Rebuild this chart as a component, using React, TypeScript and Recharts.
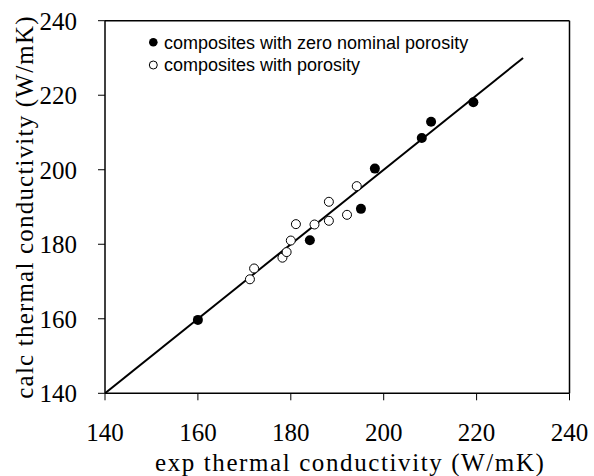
import React from 'react';
import { ScatterChart, Scatter, XAxis, YAxis, ReferenceLine, Legend, Label } from 'recharts';

// composites with zero nominal porosity
const zeroExp = [160, 184.1, 195.1, 198.1, 208.2, 210.2, 219.3];
const zeroCalc = [159.7, 181.1, 189.5, 200.3, 208.5, 212.9, 218.1];
// composites with porosity
const porExp = [171.2, 172.1, 178.2, 179.1, 180.0, 181.1, 185.1, 188.2, 188.2, 192.1, 194.2];
const porCalc = [170.6, 173.5, 176.4, 177.9, 181.0, 185.4, 185.3, 186.3, 191.4, 187.9, 195.6];
// y = x reference line
const lineExp = [140, 230];
const lineCalc = [140, 230];
const axisTicks = [140, 160, 180, 200, 220, 240];
const legendLabels = ['composites with zero nominal porosity', 'composites with porosity'];

const zeroData = zeroExp.map((x, i) => ({ x, y: zeroCalc[i] }));
const porData = porExp.map((x, i) => ({ x, y: porCalc[i] }));
const lineData = lineExp.map((x, i) => ({ x, y: lineCalc[i] }));

const SERIF = '"Liberation Serif", "DejaVu Serif", serif';
const SANS = '"Liberation Sans", Arial, sans-serif';

const FilledDot = (p: any) => <circle cx={p.cx} cy={p.cy} r={5} fill="#000" />;
const OpenDot = (p: any) => <circle cx={p.cx} cy={p.cy} r={4.5} fill="#fff" stroke="#000" strokeWidth={1} />;
const NoDot = () => <g />;

const LegendContent = () => (
  <svg width={360} height={54} style={{ display: 'block' }}>
    <circle cx={8.3} cy={12.3} r={4.3} fill="#000" />
    <text x={19} y={18.6} fontFamily={SANS} fontSize={18} fill="#000">{legendLabels[0]}</text>
    <circle cx={8.3} cy={35} r={4} fill="#fff" stroke="#000" strokeWidth={1} />
    <text x={19} y={41.3} fontFamily={SANS} fontSize={18} fill="#000">{legendLabels[1]}</text>
  </svg>
);

const YTitle = (props: any) => {
  const vb = props.viewBox || { x: 0, y: 20.7, width: 105, height: 372.6 };
  const cx = 33;
  const cy = vb.y + vb.height / 2;
  return (
    <text x={cx} y={cy} transform={`rotate(-90 ${cx} ${cy})`} textAnchor="middle"
      fontFamily={SERIF} fontSize={25} letterSpacing={1.2} fill="#000">
      calc thermal conductivity (W/mK)
    </text>
  );
};

const XTitle = (props: any) => {
  const vb = props.viewBox || { x: 105, y: 393.3, width: 464.5, height: 82.7 };
  return (
    <text x={vb.x + vb.width / 2 + 13} y={471} textAnchor="middle" fontFamily={SERIF} fontSize={25} letterSpacing={1.6} fill="#000">
      exp thermal conductivity (W/mK)
    </text>
  );
};

export default function App() {
  return (
    <div style={{ position: 'absolute', left: 0, top: 0, background: '#fff' }}>
      <ScatterChart width={594} height={476} margin={{ top: 20.7, right: 24.5, bottom: 0, left: 0 }}>
        <XAxis type="number" dataKey="x" domain={[140, 240]} ticks={axisTicks} allowDataOverflow
          height={82.7} tickSize={7} tickMargin={22.7}
          axisLine={{ stroke: '#000', strokeWidth: 1.5 }} tickLine={{ stroke: '#000', strokeWidth: 1 }}
          tick={{ fill: '#000', fontFamily: SERIF, fontSize: 25 }}>
          <Label content={<XTitle />} />
        </XAxis>
        <YAxis type="number" dataKey="y" domain={[140, 240]} ticks={axisTicks} allowDataOverflow
          width={105} tickSize={7} tickMargin={21}
          axisLine={{ stroke: '#000', strokeWidth: 1.5 }} tickLine={{ stroke: '#000', strokeWidth: 1 }}
          tick={{ fill: '#000', fontFamily: SERIF, fontSize: 25 }}>
          <Label content={<YTitle />} />
        </YAxis>
        <ReferenceLine y={240} stroke="#000" strokeWidth={1.5} />
        <ReferenceLine x={240} stroke="#000" strokeWidth={1.5} />
        <Scatter data={lineData} line={{ stroke: '#000', strokeWidth: 2 }} shape={NoDot}
          legendType="none" isAnimationActive={false} />
        <Scatter name={legendLabels[1]} data={porData} shape={OpenDot} isAnimationActive={false} />
        <Scatter name={legendLabels[0]} data={zeroData} shape={FilledDot} isAnimationActive={false} />
        <Legend layout="vertical" align="center" verticalAlign="middle" content={<LegendContent />}
          wrapperStyle={{ left: 145, top: 30, width: 'auto', height: 'auto' }} />
      </ScatterChart>
    </div>
  );
}
